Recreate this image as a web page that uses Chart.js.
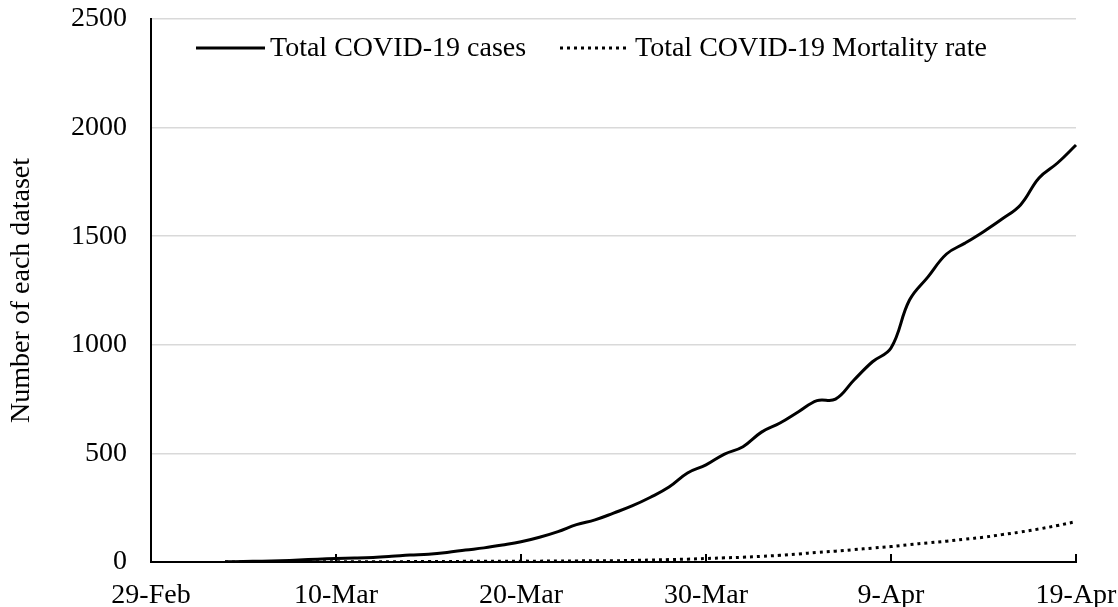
<!DOCTYPE html>
<html>
<head>
<meta charset="utf-8">
<script src="https://cdn.jsdelivr.net/npm/chart.js@4"></script>
<style>
  html, body { margin: 0; padding: 0; background: #fff; }
  #wrap { width: 1118px; height: 607px; }
</style>
</head>
<body>
<div id="wrap"><canvas id="myChart" width="1118" height="607"></canvas></div>
<script>
// dates shown on the x axis, one per day
var dates = ['29-Feb',
    '1-Mar', '2-Mar', '3-Mar', '4-Mar', '5-Mar', '6-Mar', '7-Mar', '8-Mar', '9-Mar', '10-Mar',
    '11-Mar', '12-Mar', '13-Mar', '14-Mar', '15-Mar', '16-Mar', '17-Mar', '18-Mar', '19-Mar', '20-Mar',
    '21-Mar', '22-Mar', '23-Mar', '24-Mar', '25-Mar', '26-Mar', '27-Mar', '28-Mar', '29-Mar', '30-Mar', '31-Mar',
    '1-Apr', '2-Apr', '3-Apr', '4-Apr', '5-Apr', '6-Apr', '7-Apr', '8-Apr', '9-Apr', '10-Apr',
    '11-Apr', '12-Apr', '13-Apr', '14-Apr', '15-Apr', '16-Apr', '17-Apr', '18-Apr', '19-Apr'];

var tickLabels = ['29-Feb', '10-Mar', '20-Mar', '30-Mar', '9-Apr', '19-Apr'];

var totalCases = [null, null, null, null,
    1, 2, 4, 6, 9, 13, 16, 18, 21, 26, 32, 36, 44, 55, 65, 78,
    93, 114, 140, 172, 194, 225, 258, 298, 345, 410,
    447, 497, 531, 598, 640, 692, 743, 750, 838, 922,
    985, 1206, 1313, 1418, 1468, 1521, 1579, 1644, 1768, 1837, 1920];

var totalDeaths = [null, null, null, null,
    0, 0, 0, 0, 0, 1, 1, 1, 1, 1, 2, 2, 2, 3, 3, 3,
    4, 4, 5, 5, 6, 6, 7, 9, 11, 13,
    16, 19, 22, 26, 31, 37, 44, 50, 57, 64,
    71, 80, 88, 96, 105, 114, 126, 138, 152, 168, 186];

var seriesNames = ['Total COVID-19 cases', 'Total COVID-19 Mortality rate'];

var FONT = "'Liberation Serif', 'Times New Roman', serif";

// legend drawn inside the plot, like the original
var insideLegend = {
    id: 'insideLegend',
    afterDraw: function (chart) {
        var ctx = chart.ctx;
        var area = chart.chartArea;
        var y = area.top + 29;
        var spots = [[area.left + 45, area.left + 114], [area.left + 409, area.left + 479]];
        ctx.save();
        ctx.font = '28px ' + FONT;
        ctx.fillStyle = '#000';
        ctx.textBaseline = 'middle';
        chart.data.datasets.forEach(function (ds, i) {
            ctx.beginPath();
            ctx.strokeStyle = '#000';
            ctx.lineWidth = ds.borderWidth;
            ctx.setLineDash(ds.borderDash || []);
            ctx.moveTo(spots[i][0], y);
            ctx.lineTo(spots[i][1], y);
            ctx.stroke();
            ctx.setLineDash([]);
            ctx.fillText(ds.label, spots[i][1] + 5, y + 1);
        });
        ctx.restore();
    }
};

// small tick marks pointing up into the plot
var innerTicks = {
    id: 'innerTicks',
    afterDatasetsDraw: function (chart) {
        var ctx = chart.ctx;
        var xs = chart.scales.x;
        var bottom = chart.chartArea.bottom;
        ctx.save();
        ctx.strokeStyle = '#000';
        ctx.lineWidth = 2;
        dates.forEach(function (d, i) {
            if (tickLabels.indexOf(d) < 0) return;
            var px = Math.round(xs.getPixelForTick(i));
            ctx.beginPath();
            ctx.moveTo(px, bottom);
            ctx.lineTo(px, bottom - 8);
            ctx.stroke();
        });
        ctx.restore();
    }
};

var ctx = document.getElementById('myChart').getContext('2d');
var myChart = new Chart(ctx, {
    type: 'line',
    data: {
        labels: dates,
        datasets: [{
                label: seriesNames[0],
                data: totalCases,
                borderColor: '#000',
                borderWidth: 3,
                pointRadius: 0,
                tension: 0.4,
                fill: false
            }, {
                label: seriesNames[1],
                data: totalDeaths,
                borderColor: '#000',
                borderWidth: 3,
                borderDash: [3, 4],
                pointRadius: 0,
                tension: 0.4,
                fill: false
            }]
    },
    plugins: [insideLegend, innerTicks],
    options: {
        responsive: false,
        animation: false,
        layout: { padding: { top: 19, right: 42, left: 0, bottom: 0 } },
        plugins: {
            legend: { display: false },
            tooltip: { enabled: false }
        },
        scales: {
            x: {
                type: 'category',
                offset: false,
                afterFit: function (scale) {
                    scale.height = 45;
                    scale.paddingLeft = 0;
                    scale.paddingRight = 0;
                },
                grid: { drawOnChartArea: false, drawTicks: false },
                border: { color: '#000', width: 2 },
                ticks: {
                    autoSkip: false,
                    maxRotation: 0,
                    padding: 17,
                    color: '#000',
                    font: { family: FONT, size: 28 },
                    callback: function (value) {
                        var lab = this.getLabelForValue(value);
                        return tickLabels.indexOf(lab) >= 0 ? lab : '';
                    }
                }
            },
            y: {
                min: 0,
                max: 2500,
                afterFit: function (scale) {
                    scale.width = 151;
                    scale.paddingTop = 0;
                    scale.paddingBottom = 0;
                },
                grid: { color: '#d9d9d9', lineWidth: 1.5, drawTicks: false },
                border: { color: '#000', width: 2 },
                ticks: {
                    stepSize: 500,
                    padding: 24,
                    color: '#000',
                    font: { family: FONT, size: 28 },
                    callback: function (value) { return String(value); }
                },
                title: {
                    display: true,
                    text: 'Number of each dataset',
                    color: '#000',
                    padding: { top: 5, bottom: 0 },
                    font: { family: FONT, size: 28 }
                }
            }
        }
    }
});
</script>
</body>
</html>
